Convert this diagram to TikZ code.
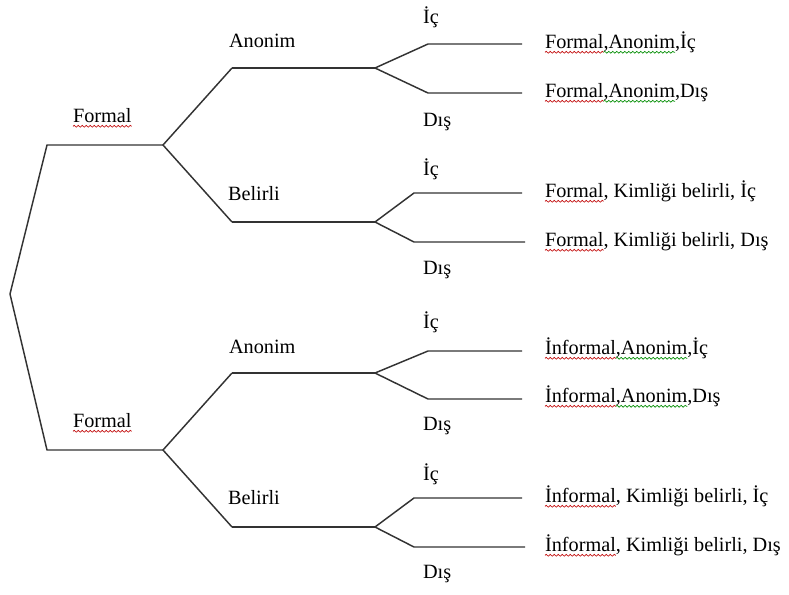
\documentclass[tikz,border=0pt]{standalone}
\usepackage{fontspec}
\setmainfont{Liberation Serif}
\usetikzlibrary{decorations.pathmorphing}
\tikzset{
  br/.style={line width=1.1pt, draw=black!80, line join=round},
  lbl/.style={inner sep=0pt, outer sep=0pt, anchor=base west, font=\fontsize{15.2}{18}\selectfont},
  redw/.style={draw=red!75!black, line width=0.5pt, decorate,
    decoration={snake, amplitude=0.7pt, segment length=3pt}},
  greenw/.style={draw=green!55!black, line width=0.5pt, decorate,
    decoration={snake, amplitude=0.7pt, segment length=3pt}}
}
\begin{document}
\begin{tikzpicture}[x=0.75pt, y=-0.75pt]
\useasboundingbox (0,0) rectangle (789,594);
% ---- branch points
\coordinate (root) at (10,294);
\coordinate (fa) at (47,145);  \coordinate (fb) at (163,145);
\coordinate (ga) at (47,450);  \coordinate (gb) at (163,450);
% upper group
\coordinate (a1) at (232,68);  \coordinate (a2) at (375,68);
\coordinate (a3) at (428,44);  \coordinate (a4) at (522,44);
\coordinate (a5) at (428,93);  \coordinate (a6) at (522,93);
\coordinate (b1) at (232,222); \coordinate (b2) at (375,222);
\coordinate (b3) at (414,193); \coordinate (b4) at (522,193);
\coordinate (b5) at (414,242); \coordinate (b6) at (525,242);
% lower group
\coordinate (c1) at (232,373); \coordinate (c2) at (375,373);
\coordinate (c3) at (428,351); \coordinate (c4) at (522,351);
\coordinate (c5) at (428,399); \coordinate (c6) at (522,399);
\coordinate (d1) at (232,527); \coordinate (d2) at (375,527);
\coordinate (d3) at (414,498); \coordinate (d4) at (522,498);
\coordinate (d5) at (414,547); \coordinate (d6) at (525,547);
% ---- lines
\draw[br] (fb) -- (fa) -- (root) -- (ga) -- (gb);
\draw[br] (a1) -- (fb) -- (b1);
\draw[br] (c1) -- (gb) -- (d1);
\draw[br] (a1) -- (a2); \draw[br] (a4) -- (a3) -- (a2) -- (a5) -- (a6);
\draw[br] (b1) -- (b2); \draw[br] (b4) -- (b3) -- (b2) -- (b5) -- (b6);
\draw[br] (c1) -- (c2); \draw[br] (c4) -- (c3) -- (c2) -- (c5) -- (c6);
\draw[br] (d1) -- (d2); \draw[br] (d4) -- (d3) -- (d2) -- (d5) -- (d6);
% ---- branch labels
\node[lbl] (f1) at (73,122) {Formal};
\node[lbl] (f2) at (73,427) {Formal};
\draw[redw] ([yshift=-3.2pt]f1.base west) -- ([yshift=-3.2pt]f1.base east);
\draw[redw] ([yshift=-3.2pt]f2.base west) -- ([yshift=-3.2pt]f2.base east);
\node[lbl] (an1) at (229,47) {Anonim};
\node[lbl] (be1) at (228,200) {Belirli};
\node[lbl] (an2) at (229,353) {Anonim};
\node[lbl] (be2) at (228,504) {Belirli};
\node[lbl] (ic1) at (423,23) {İç};
\node[lbl] (di1) at (423,126) {Dış};
\node[lbl] (ic2) at (423,175) {İç};
\node[lbl] (di2) at (423,274) {Dış};
\node[lbl] (ic3) at (423,328) {İç};
\node[lbl] (di3) at (423,430) {Dış};
\node[lbl] (ic4) at (423,480) {İç};
\node[lbl] (di4) at (423,578) {Dış};
% ---- leaf labels
\node[lbl] (r1a) at (545,48) {Formal};
\node[lbl] (r1b) at (r1a.base east) {,Anonim};
\node[lbl] (r1c) at (r1b.base east) {,İç};
\node[lbl] (r2a) at (545,97) {Formal};
\node[lbl] (r2b) at (r2a.base east) {,Anonim};
\node[lbl] (r2c) at (r2b.base east) {,Dış};
\node[lbl] (r3a) at (545,197) {Formal};
\node[lbl] (r3b) at (r3a.base east) {, Kimliği belirli, İç};
\node[lbl] (r4a) at (545,246) {Formal};
\node[lbl] (r4b) at (r4a.base east) {, Kimliği belirli, Dış};
\node[lbl] (r5a) at (545,354) {İnformal};
\node[lbl] (r5b) at (r5a.base east) {,Anonim};
\node[lbl] (r5c) at (r5b.base east) {,İç};
\node[lbl] (r6a) at (545,402) {İnformal};
\node[lbl] (r6b) at (r6a.base east) {,Anonim};
\node[lbl] (r6c) at (r6b.base east) {,Dış};
\node[lbl] (r7a) at (545,502) {İnformal};
\node[lbl] (r7b) at (r7a.base east) {, Kimliği belirli, İç};
\node[lbl] (r8a) at (545,551) {İnformal};
\node[lbl] (r8b) at (r8a.base east) {, Kimliği belirli, Dış};
\foreach \w in {r1a,r2a,r3a,r4a,r5a,r6a,r7a,r8a}
  \draw[redw] ([yshift=-3.2pt]\w.base west) -- ([yshift=-3.2pt]\w.base east);
\foreach \w in {r1b,r2b,r5b,r6b}
  \draw[greenw] ([yshift=-3.2pt]\w.base west) -- ([yshift=-3.2pt]\w.base east);
\end{tikzpicture}
\end{document}
